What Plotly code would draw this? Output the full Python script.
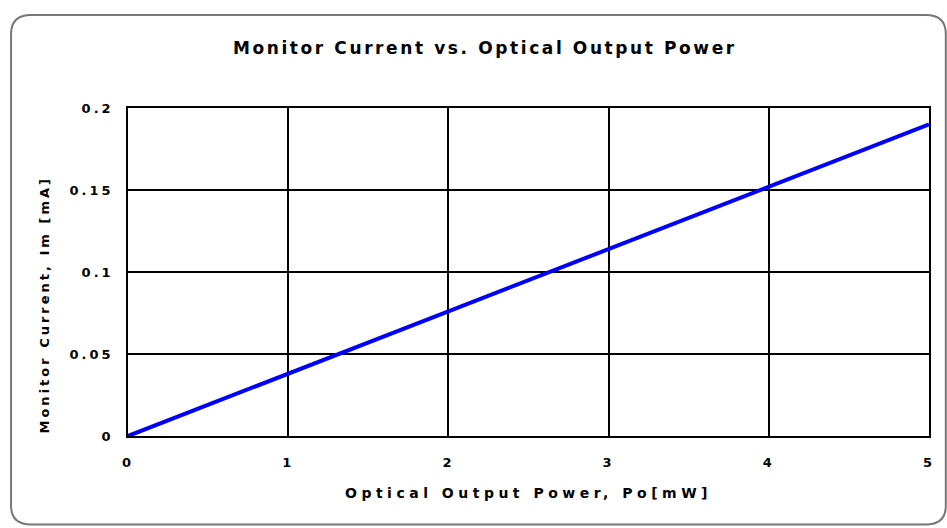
import plotly.graph_objects as go

power_mw = [0, 1, 2, 3, 4, 5]
monitor_current_ma = [0, 0.038, 0.076, 0.114, 0.152, 0.19]
x_ticks = [0, 1, 2, 3, 4, 5]
y_ticks = [0, 0.05, 0.1, 0.15, 0.2]
y_tick_labels = ["0", "0.05", "0.1", "0.15", "0.2"]

FONT = "DejaVu Sans"

fig = go.Figure()
fig.add_trace(go.Scatter(
    x=power_mw, y=monitor_current_ma, mode="lines",
    line=dict(color="#0000ff", width=4),
    showlegend=False, cliponaxis=False,
))

# rounded frame around the whole chart (paper coordinates)
L, R, T, B = -0.146, 1.021, 1.2835, -0.27
rx, ry = 0.025, 0.058
path = (f"M {L+rx},{T} L {R-rx},{T} Q {R},{T} {R},{T-ry} "
        f"L {R},{B+ry} Q {R},{B} {R-rx},{B} L {L+rx},{B} Q {L},{B} {L},{B+ry} "
        f"L {L},{T-ry} Q {L},{T} {L+rx},{T} Z")
fig.add_shape(type="path", path=path, xref="paper", yref="paper",
              line=dict(color="#777777", width=2), layer="below")

# y-axis title (placed slightly below the axis centre, as in the original)
fig.add_annotation(text="<b>Monitor Current, Im [mA]</b>", textangle=-90,
                   xref="paper", yref="paper", x=-0.104, y=0.40,
                   xanchor="center", yanchor="middle", showarrow=False,
                   font=dict(family=FONT, size=13, color="black"))

fig.update_layout(
    width=947, height=528,
    margin=dict(l=128, r=18, t=108, b=92),
    paper_bgcolor="white", plot_bgcolor="white",
    title=dict(text="<b>Monitor Current vs. Optical Output Power</b>",
               x=0.512, xanchor="center", xref="container",
               y=1 - 48/528, yref="container", yanchor="middle",
               font=dict(family=FONT, size=17, color="black")),
    font=dict(family=FONT, color="black"),
)

fig.update_xaxes(
    range=[0, 5], tickvals=x_ticks, ticktext=[f"<b>{v}</b>" for v in x_ticks],
    showgrid=True, gridcolor="black", gridwidth=1.5,
    showline=True, linecolor="black", linewidth=1.5, mirror=True,
    ticks="", ticklabelstandoff=14, zeroline=False,
    tickfont=dict(family=FONT, size=13, color="black"),
    title=dict(text="<b>Optical Output Power, Po[mW]</b>", standoff=19,
               font=dict(family=FONT, size=14, color="black")),
)
fig.update_yaxes(
    range=[0, 0.2], tickvals=y_ticks, ticktext=[f"<b>{t}</b>" for t in y_tick_labels],
    showgrid=True, gridcolor="black", gridwidth=1.5,
    showline=True, linecolor="black", linewidth=1.5, mirror=True,
    ticks="", ticklabelstandoff=10, zeroline=False,
    tickfont=dict(family=FONT, size=13, color="black"),
)

post = """
document.body.style.margin = '0';
var gd = document.getElementById('{plot_id}');
function spread() {
  gd.querySelectorAll('.gtitle').forEach(function(t){ t.style.letterSpacing = '2.6px'; });
  gd.querySelectorAll('.xtitle').forEach(function(t){ t.style.letterSpacing = '4.5px'; });
  gd.querySelectorAll('.annotation-text').forEach(function(t){ t.style.letterSpacing = '3px'; });
  gd.querySelectorAll('.xtick text, .ytick text').forEach(function(t){ t.style.letterSpacing = '3px'; });
}
spread();
gd.on('plotly_afterplot', spread);
"""

fig.write_html("out.html", post_script=post, config={"displayModeBar": False})
